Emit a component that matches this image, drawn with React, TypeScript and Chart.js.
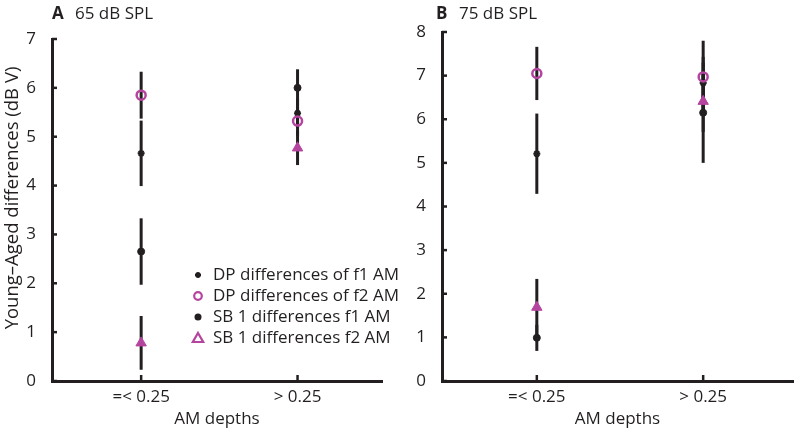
import React, { useEffect, useRef } from 'react';
import { Chart, registerables } from 'chart.js';

Chart.register(...registerables);

// ---------- data ----------
const categories = ['=< 0.25', '> 0.25'];
const categoryX = [1, 2];
const seriesNames = [
  'DP differences of f1 AM',
  'DP differences of f2 AM',
  'SB 1 differences f1 AM',
  'SB 1 differences f2 AM',
];
const yTicksA = [0, 1, 2, 3, 4, 5, 6, 7];
const yTicksB = [0, 1, 2, 3, 4, 5, 6, 7, 8];
const yAxisTitle = 'Young\u2013Aged differences (dB V)';
const xAxisTitle = 'AM depths';

// Panel A: 65 dB SPL
const a65DpF1 = [4.66, 5.48];
const a65DpF1Err = [0.67, 0.3];
const a65DpF2 = [5.85, 5.32];
const a65DpF2Err = [0.48, 0.3];
const a65SbF1 = [2.65, 6.0];
const a65SbF1Err = [0.68, 0.38];
const a65SbF2 = [0.78, 4.77];
const a65SbF2Err = [0.55, 0.35];

// Panel B: 75 dB SPL
const b75DpF1 = [5.21, 6.83];
const b75DpF1Err = [0.92, 0.6];
const b75DpF2 = [7.05, 6.97];
const b75DpF2Err = [0.61, 0.83];
const b75SbF1 = [0.99, 6.15];
const b75SbF1Err = [0.3, 1.15];
const b75SbF2 = [1.69, 6.41];
const b75SbF2Err = [0.65, 0.7];

// ---------- style ----------
const INK = '#231f20';
const MAGENTA = '#b5449f';
const FONT = "'Open Sans', 'Noto Sans', sans-serif";

const toPoints = (vals: number[]) => vals.map((v, i) => ({ x: categoryX[i], y: v }));

function makeDatasets(dpF1: number[], dpF1E: number[], dpF2: number[], dpF2E: number[], sbF1: number[], sbF1E: number[], sbF2: number[], sbF2E: number[]) {
  return [
    {
      label: seriesNames[0],
      data: toPoints(dpF1),
      errors: dpF1E,
      pointStyle: 'star',
      pointRadius: 3.5,
      borderWidth: 2,
      borderColor: INK,
      backgroundColor: INK,
      order: 4,
    },
    {
      label: seriesNames[1],
      data: toPoints(dpF2),
      errors: dpF2E,
      pointStyle: 'circle',
      pointRadius: 4.5,
      borderWidth: 2.5,
      borderColor: MAGENTA,
      backgroundColor: 'rgba(0,0,0,0)',
      order: 1,
    },
    {
      label: seriesNames[2],
      data: toPoints(sbF1),
      errors: sbF1E,
      pointStyle: 'circle',
      pointRadius: 3.5,
      borderWidth: 1,
      borderColor: INK,
      backgroundColor: INK,
      order: 3,
    },
    {
      label: seriesNames[3],
      data: toPoints(sbF2),
      errors: sbF2E,
      pointStyle: 'triangle',
      pointRadius: 6,
      borderWidth: 1,
      borderColor: MAGENTA,
      backgroundColor: MAGENTA,
      order: 2,
    },
  ];
}

// error bars drawn beneath the markers
const errorBarPlugin = {
  id: 'errorBars',
  beforeDatasetsDraw(chart: any) {
    const { ctx, scales } = chart;
    const xs = scales.x;
    const ys = scales.y;
    ctx.save();
    ctx.strokeStyle = INK;
    ctx.lineWidth = 3;
    ctx.lineCap = 'butt';
    chart.data.datasets.forEach((ds: any) => {
      ds.data.forEach((p: any, j: number) => {
        const e = ds.errors[j];
        const px = xs.getPixelForValue(p.x);
        ctx.beginPath();
        ctx.moveTo(px, ys.getPixelForValue(p.y + e));
        ctx.lineTo(px, ys.getPixelForValue(p.y - e));
        ctx.stroke();
      });
    });
    ctx.restore();
  },
};

// inward tick marks
const innerTickPlugin = {
  id: 'innerTicks',
  afterDraw(chart: any) {
    const { ctx, chartArea, scales } = chart;
    ctx.save();
    ctx.strokeStyle = INK;
    ctx.lineWidth = 2.5;
    scales.y.ticks.forEach((t: any) => {
      const py = scales.y.getPixelForValue(t.value);
      ctx.beginPath();
      ctx.moveTo(chartArea.left, py);
      ctx.lineTo(chartArea.left + 5, py);
      ctx.stroke();
    });
    scales.x.ticks.forEach((t: any) => {
      const px = scales.x.getPixelForValue(t.value);
      ctx.beginPath();
      ctx.moveTo(px, chartArea.bottom);
      ctx.lineTo(px, chartArea.bottom - 6);
      ctx.stroke();
    });
    ctx.restore();
  },
};

function drawMarker(ctx: CanvasRenderingContext2D, kind: number, x: number, y: number) {
  ctx.save();
  if (kind === 0) {
    ctx.strokeStyle = INK;
    ctx.lineWidth = 1.8;
    const r = 3;
    ctx.beginPath();
    for (let k = 0; k < 4; k++) {
      const a = (k * Math.PI) / 4;
      ctx.moveTo(x - r * Math.cos(a), y - r * Math.sin(a));
      ctx.lineTo(x + r * Math.cos(a), y + r * Math.sin(a));
    }
    ctx.stroke();
  } else if (kind === 1) {
    ctx.strokeStyle = MAGENTA;
    ctx.lineWidth = 2.2;
    ctx.beginPath();
    ctx.arc(x, y, 3.8, 0, Math.PI * 2);
    ctx.stroke();
  } else if (kind === 2) {
    ctx.fillStyle = INK;
    ctx.beginPath();
    ctx.arc(x, y, 3.5, 0, Math.PI * 2);
    ctx.fill();
  } else {
    ctx.strokeStyle = MAGENTA;
    ctx.lineWidth = 2.2;
    ctx.beginPath();
    ctx.moveTo(x, y - 5);
    ctx.lineTo(x + 5.2, y + 4);
    ctx.lineTo(x - 5.2, y + 4);
    ctx.closePath();
    ctx.stroke();
  }
  ctx.restore();
}

const legendPlugin = {
  id: 'innerLegend',
  afterDraw(chart: any) {
    const opts = chart.options.plugins.innerLegend;
    if (!opts || !opts.show) return;
    const { ctx } = chart;
    ctx.save();
    ctx.font = `17px ${FONT}`;
    ctx.fillStyle = INK;
    ctx.textBaseline = 'middle';
    ctx.textAlign = 'left';
    chart.data.datasets.forEach((ds: any, i: number) => {
      const y = opts.top + i * opts.rowHeight;
      drawMarker(ctx, i, opts.left, y);
      ctx.fillText(ds.label, opts.left + 15, y);
    });
    ctx.restore();
  },
};

const panelTitlePlugin = {
  id: 'panelTitle',
  afterDraw(chart: any) {
    const opts = chart.options.plugins.panelTitle;
    const { ctx } = chart;
    ctx.save();
    ctx.fillStyle = INK;
    ctx.textBaseline = 'middle';
    ctx.textAlign = 'left';
    ctx.font = `bold 17px ${FONT}`;
    ctx.fillText(opts.letter, opts.x, opts.y);
    ctx.font = `17px ${FONT}`;
    ctx.fillText(opts.text, opts.x + 23, opts.y);
    if (opts.yTitle) {
      ctx.translate(opts.yTitleX, opts.yTitleY);
      ctx.rotate(-Math.PI / 2);
      ctx.textAlign = 'center';
      ctx.font = `18.5px ${FONT}`;
      ctx.fillText(opts.yTitle, 0, 0);
    }
    ctx.restore();
  },
};

function buildConfig(p: {
  datasets: any[];
  yMax: number;
  yTicks: number[];
  yWidth: number;
  padTop: number;
  padRight: number;
  yTitle: string | null;
  letter: string;
  title: string;
  titleX: number;
  legend: boolean;
}): any {
  return {
    type: 'scatter',
    data: { datasets: p.datasets },
    plugins: [errorBarPlugin, innerTickPlugin, legendPlugin, panelTitlePlugin],
    options: {
      responsive: false,
      animation: false,
      devicePixelRatio: 1,
      layout: { padding: { top: p.padTop, right: p.padRight, left: 0, bottom: 0 } },
      font: { family: FONT },
      plugins: {
        legend: { display: false },
        tooltip: { enabled: false },
        innerLegend: { show: p.legend, left: 198, top: 275, rowHeight: 21 },
        panelTitle: {
          letter: p.letter,
          text: p.title,
          x: p.titleX,
          y: 14,
          yTitle: p.yTitle,
          yTitleX: 13,
          yTitleY: 198,
        },
      },
      scales: {
        x: {
          type: 'linear',
          min: 0.43,
          max: 2.54,
          afterBuildTicks: (axis: any) => {
            axis.ticks = categoryX.map((v) => ({ value: v }));
          },
          afterFit: (axis: any) => {
            axis.height = 51;
          },
          grid: { display: false },
          border: { display: true, width: 3, color: INK },
          ticks: {
            color: INK,
            font: { family: FONT, size: 17 },
            padding: -2,
            maxRotation: 0,
            callback: (v: any) => categories[categoryX.indexOf(v)] ?? '',
          },
          title: {
            display: true,
            text: xAxisTitle,
            color: INK,
            font: { family: FONT, size: 17 },
            padding: { top: 0, bottom: 3 },
          },
        },
        y: {
          type: 'linear',
          min: 0,
          max: p.yMax,
          afterBuildTicks: (axis: any) => {
            axis.ticks = p.yTicks.map((v) => ({ value: v }));
          },
          afterFit: (axis: any) => {
            axis.width = p.yWidth;
          },
          grid: { display: false },
          border: { display: true, width: 3, color: INK },
          ticks: {
            color: INK,
            font: { family: FONT, size: 17 },
            padding: 8,
          },
          title: { display: false },
        },
      },
    },
  };
}

function Panel(props: { config: () => any; left: number }) {
  const ref = useRef<HTMLCanvasElement | null>(null);
  useEffect(() => {
    if (!ref.current) return;
    const chart = new Chart(ref.current, props.config());
    return () => chart.destroy();
  }, []);
  return (
    <canvas
      ref={ref}
      width={400}
      height={432}
      style={{ position: 'absolute', left: props.left, top: 0, width: 400, height: 432 }}
    />
  );
}

export default function App() {
  const cfgA = () =>
    buildConfig({
      datasets: makeDatasets(a65DpF1, a65DpF1Err, a65DpF2, a65DpF2Err, a65SbF1, a65SbF1Err, a65SbF2, a65SbF2Err),
      yMax: 7,
      yTicks: yTicksA,
      yWidth: 52,
      padTop: 39,
      padRight: 18,
      yTitle: yAxisTitle,
      letter: 'A',
      title: '65 dB SPL',
      titleX: 52,
      legend: true,
    });
  const cfgB = () =>
    buildConfig({
      datasets: makeDatasets(b75DpF1, b75DpF1Err, b75DpF2, b75DpF2Err, b75SbF1, b75SbF1Err, b75SbF2, b75SbF2Err),
      yMax: 8,
      yTicks: yTicksB,
      yWidth: 42,
      padTop: 32,
      padRight: 6,
      yTitle: null,
      letter: 'B',
      title: '75 dB SPL',
      titleX: 36,
      legend: false,
    });
  return (
    <div style={{ position: 'fixed', left: 0, top: 0, width: 800, height: 432, background: '#fff', overflow: 'hidden' }}>
      <Panel config={cfgA} left={0} />
      <Panel config={cfgB} left={400} />
    </div>
  );
}
